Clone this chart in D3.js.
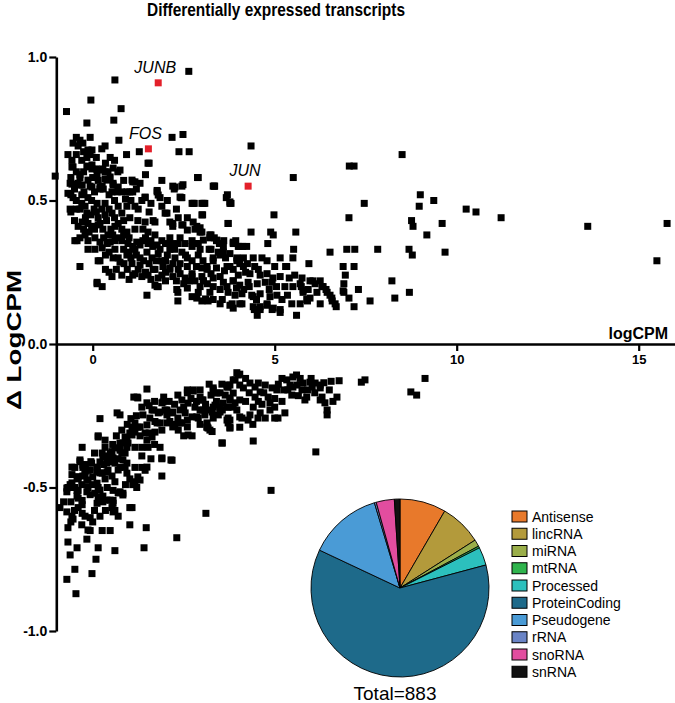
<!DOCTYPE html>
<html><head><meta charset="utf-8">
<script src="https://cdn.jsdelivr.net/npm/d3@7"></script>
<style>body{margin:0;background:#fff}svg{display:block}text{font-family:"Liberation Sans",Arial,Helvetica,sans-serif}</style>
</head><body><svg id="chart" width="675" height="703"></svg>
<script>
const upregulated = [
[0.61,0.92],[2.64,0.95],[-0.05,0.85],[-0.72,0.81],[0.78,0.82],[0.58,0.78],[-0.16,0.77],[2.18,0.72],[2.48,0.73],[0.72,0.71],[1.28,0.67],[2.37,0.67],[2.65,0.67],[0.93,0.66],[0.34,0.69],[1.55,0.63],[2.88,0.58],[3.35,0.55],[3.67,0.51],
[4.35,0.69],[8.5,0.66],[7.05,0.62],[7.18,0.62],[5.51,0.58],[3.34,0.55],[3.8,0.49],[3.08,0.49],[7.46,0.49],[9.0,0.52],[9.37,0.50],[8.97,0.48],[4.98,0.45],[3.02,0.45],[7.04,0.44],[3.72,0.42],[8.76,0.43],[8.8,0.41],[4.35,0.39],[4.89,0.39],[4.96,0.38],[5.58,0.39],[9.18,0.38],[9.6,0.42],[6.98,0.33],[7.2,0.33],[7.83,0.33],[8.69,0.33],[8.78,0.31],[6.52,0.32],[4.81,0.35],[5.52,0.33],[5.5,0.30],[5.94,0.28],[6.88,0.27],[7.18,0.27],[6.94,0.24],[8.22,0.22],[8.7,0.18],[8.3,0.16],[7.62,0.15],[6.9,0.18],[7.3,0.19],[7.04,0.16],[7.18,0.13],[5.6,0.10],[5.33,0.27],
[10.26,0.47],[10.53,0.46],[11.22,0.44],[13.6,0.41],[15.78,0.42],[15.5,0.29],[9.68,0.32],[-1.03,0.585],
[2.79,0.49],[3.77,0.49],[2.86,0.41],[2.95,0.39],[3.25,0.38],[3.34,0.37],[3.6,0.36],[3.48,0.35],[3.93,0.36],[4.12,0.34],[4.0,0.34],[3.25,0.33],[2.84,0.35],[2.73,0.36],[5.73,0.20],[5.78,0.18],[5.92,0.19],[6.05,0.22],[6.25,0.22],[6.33,0.20],[6.41,0.19],[6.52,0.17],[6.58,0.15],[6.69,0.13],[6.88,0.185],[6.9,0.21],[5.75,0.23],[5.9,0.15],[4.37,0.17],[4.5,0.155],[4.6,0.13],[4.44,0.12],[4.79,0.14],[4.96,0.125],[5.15,0.12],[5.3,0.27],
[-0.57,0.617],[-0.13,0.62],[-0.02,0.61],[0.28,0.61],[0.42,0.6],[0.69,0.60],[1.52,0.63],
[-0.35,0.58],[-0.4,0.56],[-0.57,0.557],[-0.07,0.55],[0.15,0.57],[0.34,0.575],[0.56,0.56],[1.16,0.565],[1.1,0.53],[0.8,0.53],[0.53,0.53],[0.29,0.54],[0.26,0.55],[-0.68,0.525],[-0.54,0.51],[-0.24,0.53],[-0.13,0.51],[-0.03,0.50],[0.12,0.49],[0.34,0.49],[0.94,0.48],[1.16,0.48],[1.44,0.51],[1.77,0.53],[1.85,0.51],[2.24,0.54],[2.45,0.55],[2.43,0.51],[2.73,0.49],[2.9,0.58],[3.0,0.49],[3.0,0.45],
[-0.62,0.47],[-0.35,0.47],[-0.21,0.48],[-0.16,0.456],[0.04,0.47],[0.15,0.44],[0.34,0.45],[0.53,0.456],[0.8,0.456],[1.02,0.44],[1.24,0.43],[1.44,0.425],[1.71,0.425],[1.99,0.456],[2.12,0.425],[2.2,0.41],[2.48,0.415],[2.81,0.40],[3.0,0.39],
[-0.29,0.425],[-0.13,0.42],[-0.03,0.41],[0.15,0.415],[0.28,0.40],[0.42,0.38],[0.61,0.41],[0.8,0.40],[0.94,0.39],[1.16,0.40],[1.38,0.40],[1.52,0.39],[1.71,0.38],[1.9,0.36],[2.12,0.37],[2.18,0.35],[2.4,0.37],[2.54,0.35],[2.73,0.34],[2.9,0.35],
[-0.49,0.36],[-0.35,0.37],[-0.21,0.38],[-0.13,0.36],[0.06,0.37],[0.2,0.355],[0.48,0.355],[0.61,0.36],[0.8,0.36],[0.97,0.35],[1.21,0.355],[1.38,0.36],[1.52,0.35],[1.77,0.345],
[-0.13,0.33],[0.06,0.33],[0.26,0.335],[0.15,0.29],[0.61,0.33],[0.7,0.30],[0.75,0.285],[0.94,0.31],[1.16,0.33],[1.3,0.30],[1.49,0.32],[1.63,0.30],[1.8,0.315],[1.9,0.29],[2.12,0.33],[2.26,0.30],[2.45,0.32],[2.6,0.30],[2.73,0.29],[2.9,0.31],[3.03,0.29],
[-0.35,0.27],[0.53,0.235],[0.8,0.24],[1.16,0.245],[1.35,0.235],[1.52,0.24],[1.71,0.26],[1.9,0.24],[2.12,0.265],[2.2,0.235],[2.4,0.245],[2.54,0.23],[2.73,0.245],[2.81,0.22],[3.0,0.235],
[0.12,0.21],[0.26,0.20],[1.49,0.17],[1.71,0.205],[1.8,0.20],[2.34,0.18],[2.34,0.15],[2.6,0.195],[2.73,0.165],[2.9,0.18],[3.0,0.15],
[-0.6,0.52],[-0.6,0.46],[-0.43,0.36],[0.12,0.215],[1.0,0.225],[1.77,0.20],[2.31,0.19],[2.86,0.16],[3.17,0.15],[3.5,0.14],[3.77,0.135],[4.04,0.14],[0.2,0.29],[0.56,0.30],[0.86,0.28],[1.08,0.28],[1.3,0.275],[1.66,0.26],[1.93,0.27],[2.12,0.26],
[-0.62,0.56],[-0.29,0.554],[-0.02,0.547],[0.2,0.54],[0.56,0.554],[0.94,0.53],[1.1,0.565],[1.77,0.535],[2.2,0.55],[2.48,0.555],[2.45,0.51],[2.76,0.49],[3.04,0.49],[3.31,0.55],[3.7,0.52],[3.77,0.495],[2.04,0.456],[1.66,0.43],[2.2,0.42],[2.45,0.415],[2.6,0.397],[2.76,0.425],[2.95,0.405],[3.22,0.38],[3.4,0.36],[3.72,0.42],[3.86,0.355],[3.59,0.32],[3.96,0.30],[4.04,0.28],[3.77,0.27],[3.31,0.29],[3.14,0.26],[3.5,0.235],[3.86,0.22],[3.69,0.20],[3.31,0.20],[3.04,0.22],[2.73,0.235],[2.6,0.27],
[3.04,0.362],[3.22,0.37],[3.41,0.362],[3.59,0.34],[3.86,0.35],[4.04,0.34],[4.23,0.34],[3.31,0.30],[3.5,0.31],[3.77,0.315],[3.96,0.29],[4.14,0.30],[4.41,0.30],[4.65,0.30],[4.79,0.29],[5.15,0.30],[3.14,0.27],[3.4,0.265],[3.69,0.27],[3.86,0.26],[4.14,0.27],[4.32,0.245],[4.55,0.26],[4.79,0.245],[5.0,0.27],[3.04,0.22],[3.31,0.23],[3.59,0.215],[3.86,0.22],[4.04,0.205],[4.27,0.215],[4.52,0.21],[4.74,0.215],[4.93,0.215],[5.15,0.235],[5.28,0.20],[3.22,0.18],[3.5,0.19],[3.72,0.18],[3.91,0.17],[4.1,0.175],[4.41,0.165],[4.6,0.175],[4.87,0.165],[5.06,0.17],[5.2,0.155],[5.47,0.14],[5.7,0.14],[5.88,0.155],[4.41,0.13],[4.6,0.12],[4.79,0.135],[4.93,0.12],[5.15,0.11],[4.52,0.10],[3.83,0.14],[3.86,0.125],[4.1,0.14],[3.56,0.155],[3.31,0.155],[3.1,0.157],[5.7,0.21],[5.78,0.188],[5.97,0.22],[6.11,0.21],[6.3,0.2],[6.44,0.18],[6.57,0.16],[6.66,0.14],[5.97,0.16],[6.16,0.18],[6.25,0.14],
[-0.45,0.72],[-0.35,0.71],[-0.27,0.70],[-0.07,0.72],[-0.13,0.676],[-0.54,0.70],[-0.4,0.69],[-0.68,0.66],[-0.57,0.64],[-0.54,0.617],[-0.16,0.65],[-0.07,0.66],[-0.02,0.676],[-0.16,0.617],[-0.02,0.624],[0.2,0.606],[0.34,0.6],[0.48,0.582],[0.56,0.613],[0.75,0.606],[0.48,0.65],[-0.35,0.59],[-0.35,0.554],[-0.13,0.571],[0.12,0.589],[0.2,0.547],[0.39,0.571],[0.67,0.53],[1.08,0.571],[1.44,0.512],[1.8,0.519],[2.26,0.547],[2.4,0.512],[1.02,0.53],[0.7,0.547],
[-0.45,0.5],[-0.3,0.49],[-0.2,0.44],[-0.05,0.45],[0.1,0.46],[0.25,0.47],[0.45,0.47],[0.6,0.44],[-0.5,0.43],[-0.4,0.41],[-0.25,0.4],[-0.1,0.39],[0.05,0.4],[0.2,0.42],[0.38,0.43],[0.5,0.4],[0.7,0.42],[0.85,0.43],
[0.3,0.37],[0.4,0.35],[0.55,0.38],[0.7,0.37],[0.85,0.38],[1.0,0.37],[1.1,0.34],[1.3,0.345],[1.45,0.37],[1.6,0.36],[1.65,0.34],[1.85,0.33],[2.0,0.35],[2.05,0.31],[2.25,0.33],[2.35,0.35],[0.35,0.31],[0.45,0.32],[0.85,0.33],[1.0,0.32],[1.05,0.3],[1.2,0.31],[1.4,0.29],[1.55,0.28],[1.75,0.29],[2.0,0.29],[2.2,0.28],[2.4,0.28],[2.55,0.31],[2.85,0.27],[2.95,0.33],
[0.35,0.26],[0.45,0.25],[0.65,0.26],[0.95,0.26],[1.1,0.24],[1.25,0.26],[1.45,0.25],[1.6,0.225],[1.8,0.23],[2.0,0.22],[2.3,0.22],[2.5,0.21],[2.65,0.22],[2.95,0.2],[3.15,0.21],[2.0,0.25],[2.35,0.26],
[0.45,0.52],[0.6,0.5],[0.7,0.48],[0.9,0.505],[1.05,0.5],[1.25,0.47],[1.35,0.5],[1.55,0.46],[1.6,0.49],[1.9,0.48],[2.05,0.5],[2.3,0.47],[2.6,0.44],[2.35,0.44],[1.2,0.54],[0.05,0.53],[-0.3,0.52],[-0.45,0.47],
[3.2,0.33],[3.45,0.32],[3.65,0.3],[4.25,0.28],[4.45,0.27],[4.6,0.24],[4.95,0.23],[5.05,0.2],[4.85,0.19],[5.35,0.17],[5.5,0.2],[5.55,0.24],[5.4,0.23],[4.3,0.2],[4.2,0.25],[4.0,0.24],[4.15,0.19],[3.95,0.195],[3.62,0.255],[3.25,0.245],[3.0,0.265],
[-0.6,0.58],[-0.45,0.6],[-0.25,0.6],[0.0,0.58],[0.1,0.61],[0.35,0.63],[0.6,0.64],[-0.3,0.64],[-0.45,0.66],[-0.25,0.67],[0.1,0.65],[0.25,0.68],[-0.5,0.54],[0.85,0.57],[1.3,0.56],[1.45,0.59],[1.9,0.57]
];
const downregulated = [
[1.49,-0.157],[1.13,-0.185],[1.24,-0.188],[1.49,-0.205],[1.9,-0.205],[2.34,-0.178],[2.6,-0.17],[2.76,-0.164],[3.31,-0.153],[3.72,-0.15],[4.0,-0.108],[3.91,-0.125],[3.25,-0.178],[3.0,-0.195],[3.64,-0.178],[3.86,-0.171],[2.45,-0.195],[2.62,-0.206],[2.81,-0.22],[2.95,-0.23],[3.31,-0.22],[3.56,-0.23],[3.72,-0.22],[3.91,-0.205],[4.04,-0.195],[3.28,-0.237],[3.08,-0.247],[3.45,-0.247],[3.72,-0.258],[4.04,-0.254],[2.9,-0.258],[2.73,-0.254],[2.54,-0.24],[2.34,-0.258],[2.18,-0.24],[1.99,-0.23],[2.04,-0.247],[1.8,-0.24],[1.63,-0.23],[1.38,-0.247],[1.57,-0.258],[1.71,-0.27],[1.85,-0.275],[2.12,-0.27],[2.26,-0.28],[2.45,-0.275],[2.6,-0.289],[2.73,-0.32],[2.62,-0.317],[3.14,-0.29],[3.28,-0.305],[3.56,-0.345],[3.77,-0.29],[4.04,-0.29],[3.72,-0.275],[0.2,-0.26],[0.67,-0.24],[0.75,-0.247],[0.15,-0.32],[0.34,-0.335],[1.16,-0.275],[1.08,-0.29],[1.24,-0.29],[1.02,-0.31],[0.94,-0.33],[1.16,-0.307],[1.3,-0.32],[1.44,-0.31],[1.49,-0.335],[1.63,-0.324],[1.71,-0.307],[1.9,-0.30],[0.83,-0.345],[0.94,-0.36],[0.75,-0.37],[0.89,-0.38],[1.16,-0.36],[1.35,-0.36],[1.52,-0.36],[1.85,-0.36],[1.9,-0.40],[2.18,-0.405],[1.9,-0.46],[-0.29,-0.36],[0.34,-0.36],[0.26,-0.38],[0.53,-0.375],[0.42,-0.39],[0.7,-0.40],[0.83,-0.404],[0.61,-0.415],[0.75,-0.43],[0.94,-0.415],[1.16,-0.43],[1.35,-0.43],[1.44,-0.44],[0.94,-0.45],[1.02,-0.47],[1.16,-0.48],[1.21,-0.50],[-0.03,-0.415],[0.12,-0.44],[-0.13,-0.44],[0.26,-0.45],[0.42,-0.44],[0.34,-0.47],[0.53,-0.46],[0.61,-0.48],[-0.49,-0.43],[-0.35,-0.41],[-0.27,-0.43],[-0.21,-0.455],[-0.57,-0.455],[-0.4,-0.47],[-0.13,-0.475],[0.0,-0.49],[0.15,-0.50],[-0.68,-0.50],[-0.71,-0.515],[-0.4,-0.51],[-0.16,-0.515],[0.06,-0.52],[-0.43,-0.53],[-0.29,-0.545],[0.15,-0.533],[0.28,-0.53],[0.39,-0.544],[0.56,-0.545],[0.53,-0.57],[0.75,-0.515],[0.83,-0.526],[1.08,-0.57],[-0.9,-0.57],[-0.4,-0.57],[4.1,-0.258],
[-0.71,-0.585],[-0.57,-0.60],[-0.54,-0.61],[-0.68,-0.64],[-0.29,-0.59],[-0.29,-0.56],[-0.4,-0.537],[-0.43,-0.51],[-0.62,-0.49],[-0.21,-0.60],[-0.07,-0.605],[0.0,-0.62],[-0.07,-0.65],[0.2,-0.60],[0.26,-0.65],[0.48,-0.65],[0.12,-0.555],[0.2,-0.535],[0.28,-0.55],[0.48,-0.544],[0.56,-0.555],[0.61,-0.58],[0.56,-0.585],[1.02,-0.57],[1.02,-0.63],[1.47,-0.64],[1.41,-0.71],[0.61,-0.72],[0.15,-0.71],[0.09,-0.75],[-0.02,-0.80],[-0.43,-0.71],[-0.68,-0.69],[-0.62,-0.735],[-0.49,-0.785],[-0.71,-0.82],[-0.46,-0.87],[-0.16,-0.68],[-0.13,-0.648],[2.31,-0.675],[3.11,-0.59],[0.56,-0.51],[0.7,-0.519],[0.83,-0.52],[1.3,-0.474],[1.1,-0.49],[0.12,-0.485],[0.2,-0.509],[0.12,-0.446],[0.39,-0.446],[-0.27,-0.46],[-0.16,-0.474],[-0.13,-0.50],[-0.07,-0.525],[-0.4,-0.463],[-0.21,-0.445],
[4.04,-0.105],[3.86,-0.125],[3.77,-0.143],[4.04,-0.143],[4.14,-0.153],[4.32,-0.136],[4.46,-0.15],[4.55,-0.136],[4.74,-0.143],[4.6,-0.167],[4.46,-0.185],[4.55,-0.20],[4.41,-0.22],[4.65,-0.21],[4.82,-0.185],[4.93,-0.153],[5.06,-0.16],[4.87,-0.205],[4.87,-0.23],[5.2,-0.20],[5.2,-0.12],[5.33,-0.125],[5.5,-0.115],[5.6,-0.108],[5.7,-0.12],[5.42,-0.143],[5.36,-0.16],[5.61,-0.143],[5.78,-0.136],[5.97,-0.133],[6.11,-0.136],[6.03,-0.15],[6.25,-0.143],[6.25,-0.153],[5.75,-0.16],[5.88,-0.185],[5.83,-0.195],[5.47,-0.178],[6.25,-0.195],[6.3,-0.185],[6.38,-0.205],[6.44,-0.23],[6.44,-0.247],[6.71,-0.185],[6.77,-0.128],[7.38,-0.133],[7.48,-0.125],[8.74,-0.167],[8.9,-0.178],[6.13,-0.376],[4.9,-0.51],[4.41,-0.338],[3.77,-0.293],[4.27,-0.265],[4.32,-0.247],[4.54,-0.258],[4.74,-0.258],[5.0,-0.258],[5.09,-0.258],[5.28,-0.24],[3.22,-0.30],[3.14,-0.289],[3.31,-0.258],[3.69,-0.265],[3.5,-0.223],[3.69,-0.22],[3.77,-0.188],[3.58,-0.206],[3.03,-0.23],[3.03,-0.195],[3.31,-0.16],[3.69,-0.15],[9.13,-0.12],
[1.22,-0.185],[1.93,-0.202],[1.68,-0.23],[1.85,-0.237],[2.04,-0.23],[2.2,-0.237],[2.4,-0.23],[2.6,-0.16],[2.76,-0.16],[2.95,-0.185],[3.41,-0.171],[3.69,-0.143],[3.96,-0.1],[3.77,-0.195],[3.5,-0.22],[3.14,-0.23],[2.86,-0.254],[2.6,-0.265],[2.4,-0.275],[2.2,-0.289],[2.04,-0.275],[1.77,-0.275],[1.49,-0.282],[1.3,-0.289],[1.1,-0.293],[1.08,-0.317],[0.89,-0.324],[0.97,-0.345],[0.75,-0.345],[0.75,-0.362],[0.8,-0.38],[0.61,-0.362],[0.48,-0.38],[0.56,-0.397],[0.28,-0.394],[0.2,-0.411],[0.39,-0.415],[0.12,-0.429],[-0.07,-0.439],[0.0,-0.463],[0.2,-0.449],[-0.27,-0.422],[-0.35,-0.404],[0.15,-0.324],[0.7,-0.439],[0.89,-0.429],[1.24,-0.463],[1.49,-0.429],[1.9,-0.397],[2.15,-0.404],[3.17,-0.293],[3.14,-0.275],[3.36,-0.213],[3.5,-0.237],[3.55,-0.345],[3.96,-0.23],[3.86,-0.22],[3.77,-0.265],[-0.57,-0.429],[-0.43,-0.463],[-0.57,-0.484],[-0.71,-0.502],
[-0.6,-0.55],[-0.5,-0.5],[-0.3,-0.49],[-0.2,-0.42],[-0.05,-0.41],[0.05,-0.38],[0.3,-0.42],[0.45,-0.41],[0.55,-0.35],[0.65,-0.32],[0.8,-0.3],[0.95,-0.28],[1.05,-0.26],[1.2,-0.25],[1.35,-0.22],[1.55,-0.215],[1.7,-0.2],[1.95,-0.185],[2.1,-0.2],[2.25,-0.21],[2.5,-0.22],[2.7,-0.19],[2.85,-0.2],[3.1,-0.21],[3.4,-0.2],[3.5,-0.17],[3.55,-0.14],[3.2,-0.14],[2.95,-0.16],[4.2,-0.2],[4.3,-0.17],[4.2,-0.12],[4.7,-0.17],[5.0,-0.19],[5.1,-0.14],[5.25,-0.16],[5.5,-0.15],[5.9,-0.16],[6.1,-0.17],[6.0,-0.12],[6.35,-0.135],[6.5,-0.16],[6.55,-0.13],[6.6,-0.2],[5.65,-0.18],[5.0,-0.22],[4.6,-0.24],[4.4,-0.28],[0.4,-0.5],[0.9,-0.49],[1.35,-0.39],[1.6,-0.4],[1.7,-0.35],[1.55,-0.31],[2.35,-0.3],[2.5,-0.32],[2.95,-0.28],[-0.5,-0.58],[-0.8,-0.55],[-0.6,-0.62],[0.35,-0.58],[0.7,-0.6],[0.05,-0.58],[-0.3,-0.63]
];
const highlightGenes = ["JUNB", "FOS", "JUN"];
const highlightLogCPM = [1.80, 1.53, 4.27];
const highlightDelta = [0.91, 0.68, 0.55];
const xTickValues = [0, 5, 10, 15];
const yTickValues = [-1.0, -0.5, 0.0, 0.5, 1.0];
const pieCategories = ["Antisense","lincRNA","miRNA","mtRNA","Processed","ProteinCoding","Pseudogene","rRNA","snoRNA","snRNA"];
const pieCounts = [74, 67, 11, 3, 29, 540, 118, 3, 29, 9];
const pieColors = ["#e8792b","#b39a3b","#9aae4a","#2fb44d","#2cc0bd","#1e6a8a","#4a9bd6","#6a84c6","#e24d9f","#111111"];
const titleText = "Differentially expressed transcripts";
const xLabel = "logCPM";
const yLabel = "\u0394 LogCPM";
const totalText = "Total=883";

const svg = d3.select("#chart");
const x = d3.scaleLinear().domain([-1, 16]).range([56.3, 675.1]);
const y = d3.scaleLinear().domain([-1, 1]).range([631, 57]);
const S = 7;

svg.append("text").attr("x", 276).attr("y", 16).attr("text-anchor", "middle")
  .attr("font-size", 19).attr("font-weight", "bold").attr("textLength", 258)
  .attr("lengthAdjust", "spacingAndGlyphs").text(titleText);

const pts = svg.append("g");
pts.selectAll("rect.up").data(upregulated).join("rect").attr("class", "up")
  .attr("x", d => x(d[0]) - S/2).attr("y", d => y(d[1]) - S/2).attr("width", S).attr("height", S).attr("fill", "#000");
pts.selectAll("rect.down").data(downregulated).join("rect").attr("class", "down")
  .attr("x", d => x(d[0]) - S/2).attr("y", d => y(d[1]) - S/2).attr("width", S).attr("height", S).attr("fill", "#000");

const hl = highlightGenes.map((g, i) => ({g, x: highlightLogCPM[i], y: highlightDelta[i]}));
pts.selectAll("rect.hl").data(hl).join("rect").attr("class", "hl")
  .attr("x", d => x(d.x) - S/2).attr("y", d => y(d.y) - S/2).attr("width", S).attr("height", S).attr("fill", "#e3202a");
pts.selectAll("text.hl").data(hl).join("text").attr("class", "hl")
  .attr("x", d => x(d.x) - 3).attr("y", d => y(d.y) - 10).attr("text-anchor", "middle")
  .attr("font-size", 16).attr("font-style", "italic").text(d => d.g);

const yAxis = svg.append("g").attr("transform", "translate(56.3,0)")
  .call(d3.axisLeft(y).tickValues(yTickValues).tickSize(7).tickSizeOuter(0).tickFormat(d => d.toFixed(1)));
const xAxis = svg.append("g").attr("transform", `translate(0,${y(0)})`)
  .call(d3.axisBottom(x).tickValues(xTickValues).tickSize(7).tickSizeOuter(0).tickFormat(d3.format("d")));
[yAxis, xAxis].forEach(a => {
  a.select(".domain").attr("stroke", "#000").attr("stroke-width", 2.6);
  a.selectAll(".tick line").attr("stroke", "#000").attr("stroke-width", 2.2);
  a.selectAll(".tick text").attr("fill", "#000").attr("font-weight", "bold")
    .attr("font-family", '"Liberation Sans",Arial,sans-serif');
});
yAxis.selectAll(".tick text").attr("font-size", 14).attr("x", -9);
xAxis.selectAll(".tick text").attr("font-size", 13).attr("y", 11);

svg.append("text").attr("x", 668).attr("y", 339).attr("text-anchor", "end")
  .attr("font-size", 16).attr("font-weight", "bold").text(xLabel);
svg.append("text").attr("transform", "translate(21,340) rotate(-90)").attr("text-anchor", "middle")
  .attr("font-size", 21).attr("font-weight", "bold").attr("textLength", 140)
  .attr("lengthAdjust", "spacingAndGlyphs").text(yLabel);

// pie
const pieData = pieCategories.map((c, i) => ({c, v: pieCounts[i], col: pieColors[i]}));
const pie = d3.pie().sort(null).value(d => d.v);
const arc = d3.arc().innerRadius(0).outerRadius(89);
const pg = svg.append("g").attr("transform", "translate(400,588)");
pg.selectAll("path").data(pie(pieData)).join("path").attr("d", arc)
  .attr("fill", d => d.data.col).attr("stroke", "#000").attr("stroke-width", 0.9);
svg.append("text").attr("x", 395).attr("y", 700).attr("text-anchor", "middle")
  .attr("font-size", 19).text(totalText);

const lg = svg.append("g").attr("transform", "translate(512,511)");
const rows = lg.selectAll("g").data(pieData).join("g").attr("transform", (d, i) => `translate(0,${i * 17.25})`);
rows.append("rect").attr("width", 15).attr("height", 11).attr("fill", d => d.col).attr("stroke", "#000").attr("stroke-width", 1);
rows.append("text").attr("x", 20).attr("y", 10.5).attr("font-size", 14).text(d => d.c);
</script></body></html>
